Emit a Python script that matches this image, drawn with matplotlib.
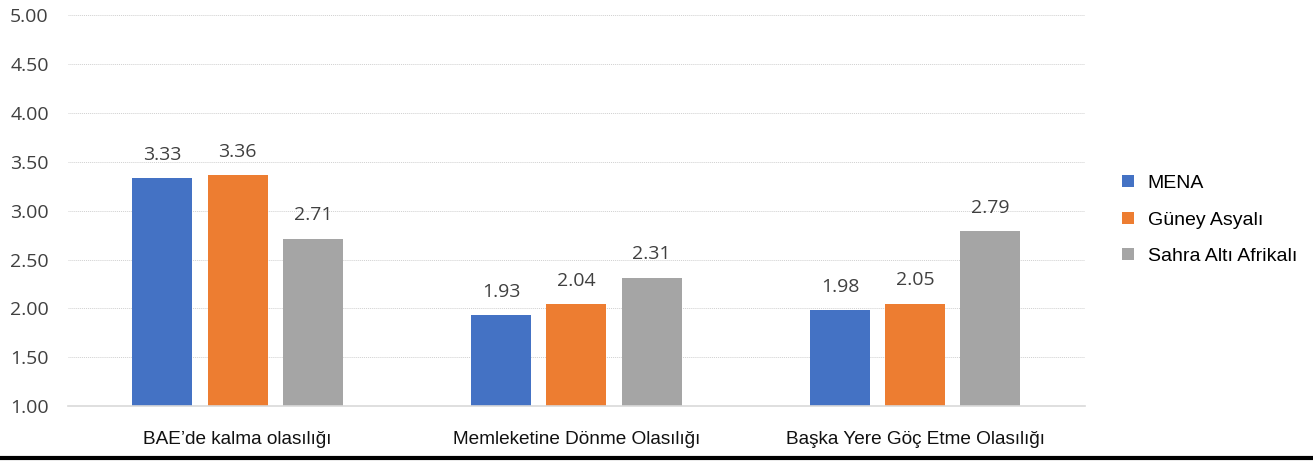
import numpy as np
import matplotlib.pyplot as plt
from matplotlib.lines import Line2D

# data
categories = ["BAE\u2019de kalma olasılığı", "Memleketine Dönme Olasılığı", "Başka Yere Göç Etme Olasılığı"]
series_names = ["MENA", "Güney Asyalı", "Sahra Altı Afrikalı"]
mena = [3.33, 1.93, 1.98]
guney = [3.36, 2.04, 2.05]
sahra = [2.71, 2.31, 2.79]
colors = ["#4472C4", "#ED7D31", "#A5A5A5"]

fig = plt.figure(figsize=(13.13, 4.61), dpi=100)
ax = fig.add_axes([0.052, 0.119, 0.774, 0.848])

x = np.arange(len(categories))
width = 0.177
step = 0.222
for i, (vals, name) in enumerate(zip([mena, guney, sahra], series_names)):
    bars = ax.bar(x + (i - 1) * step, vals, width, bottom=0, color=colors[i], label=name, zorder=3)
    for b, v in zip(bars, vals):
        ax.text(b.get_x() + b.get_width() / 2, v + 0.15, f"{v:.2f}", ha="center", va="bottom",
                fontsize=14, color="#404040", family="Open Sans")

ax.set_xlim(-0.5, 2.5)
ax.set_ylim(1.0, 5.0)
ax.set_yticks(np.arange(1.0, 5.01, 0.5))
ax.set_yticklabels([f"{v:.2f}" for v in np.arange(1.0, 5.01, 0.5)], family="Open Sans",
                   fontsize=14, color="#404040")
ax.set_xticks(x)
ax.set_xticklabels(categories, family="Liberation Sans", fontsize=13.7, color="#111111")
ax.tick_params(axis="x", length=0, pad=18)
ax.tick_params(axis="y", length=0, pad=14)
ax.yaxis.grid(True, linestyle=(0, (1, 1)), color="#d0d0d0", linewidth=0.7, zorder=0)
for s in ["top", "right", "left"]:
    ax.spines[s].set_visible(False)
ax.spines["bottom"].set_color("#d9d9d9")
ax.spines["bottom"].set_linewidth(1.2)
ax.spines["bottom"].set_zorder(4)

leg = ax.legend(loc="center left", bbox_to_anchor=(1.02, 0.476), frameon=False,
                prop={"family": "Liberation Sans", "size": 14}, handlelength=0.6,
                handleheight=0.6, labelspacing=1.0, handletextpad=0.7)

fig.add_artist(Line2D([0, 1], [0.006, 0.006], color="black", linewidth=3, transform=fig.transFigure))

fig.savefig("out.png", dpi=100)
